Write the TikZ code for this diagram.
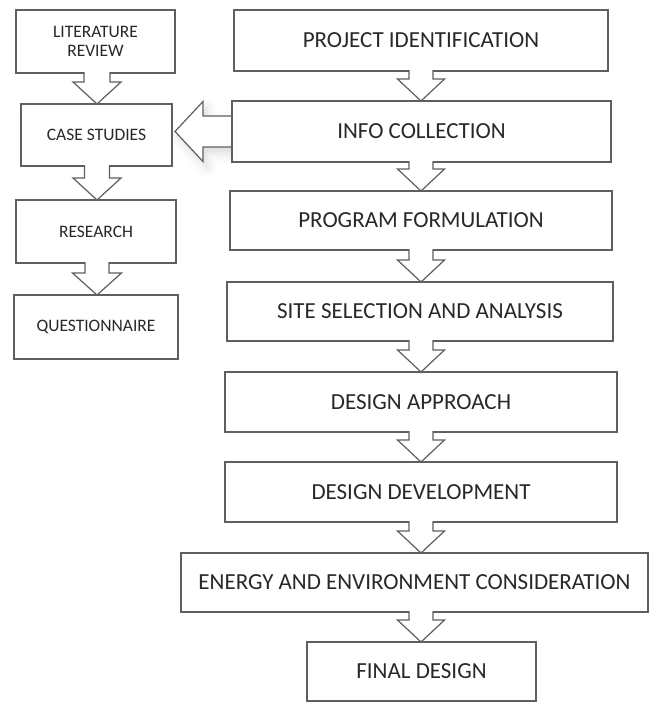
\documentclass[tikz,border=0pt]{standalone}
\usepackage{fontspec}
\setmainfont{Carlito}
\usetikzlibrary{calc,shadows.blur}

\definecolor{linegray}{RGB}{95,95,95}
\definecolor{textgray}{RGB}{40,40,40}

\pgfdeclarelayer{back}
\pgfsetlayers{back,main}

\tikzset{
  box/.style={draw=linegray, line width=1.2pt, fill=white, inner sep=0pt, outer sep=0pt, text=textgray, align=center},
  bigbox/.style={box, font=\fontsize{23}{26}\selectfont},
  smallbox/.style={box, font=\fontsize{17.5}{18.5}\selectfont},
  blockarrow/.style={draw=linegray, fill=white, line width=1.2pt, line join=miter}
}

% hollow arrow pointing down from #1 to #2 on the x of #3 (shaft half #4, head half #5)
\newcommand{\blockdown}[5]{%
  \path[blockarrow] let \p1=(#1.south), \p2=(#2.north), \p3=(#3) in
    (\x3-#4pt,\y1+1pt) -- (\x3-#4pt,\y2+22pt) -- (\x3-#5pt,\y2+22pt) -- (\x3,\y2)
    -- (\x3+#5pt,\y2+22pt) -- (\x3+#4pt,\y2+22pt) -- (\x3+#4pt,\y1+1pt);}

% hollow arrow pointing left from #1 to #2
\newcommand{\blockleft}[2]{%
  \path[blockarrow, blur shadow={shadow xshift=4pt, shadow yshift=-6pt, shadow blur radius=10pt, shadow opacity=15}]
    let \p1=(#1.west), \p2=(#2.east) in
    (\x1,\y1+15.5pt) -- (\x2+31pt,\y1+15.5pt) -- (\x2+31pt,\y1+30pt) -- (\x2+3pt,\y1)
    -- (\x2+31pt,\y1-30pt) -- (\x2+31pt,\y1-15.5pt) -- (\x1,\y1-15.5pt) -- cycle;}

\begin{document}
\begin{tikzpicture}[x=1pt, y=-1pt]
        \useasboundingbox (0,0) rectangle (649,702);
        \coordinate (spine) at (421,0);
        \coordinate (lspine) at (97,0);
        % side column
        \node[smallbox, minimum width=159pt, minimum height=63pt] (Lit) at (95.5,41.5) {LITERATURE\\REVIEW};
        \node[smallbox, minimum width=151pt, minimum height=62pt] (Case) at (96.5,135) {CASE STUDIES};
        \node[smallbox, minimum width=160pt, minimum height=63pt] (Res) at (96,231.5) {RESEARCH};
        \node[smallbox, minimum width=164pt, minimum height=64pt] (Quest) at (96,327) {QUESTIONNAIRE};
        % main column
        \node[bigbox, minimum width=374pt, minimum height=61pt] (Ident) at (421,40.5) {PROJECT IDENTIFICATION};
        \node[bigbox, minimum width=379pt, minimum height=61pt] (Info) at (421.5,131.5) {INFO COLLECTION};
        \node[bigbox, minimum width=382pt, minimum height=59pt] (Prog) at (421,220.5) {PROGRAM FORMULATION};
        \node[bigbox, minimum width=386pt, minimum height=59pt] (Site) at (420,311.5) {SITE SELECTION AND ANALYSIS};
        \node[bigbox, minimum width=392pt, minimum height=60pt] (Appr) at (421,402) {DESIGN APPROACH};
        \node[bigbox, minimum width=392pt, minimum height=60pt] (Devl) at (421,492) {DESIGN DEVELOPMENT};
        \node[bigbox, minimum width=467pt, minimum height=59pt] (Energy) at (414.5,582.5) {ENERGY AND ENVIRONMENT CONSIDERATION};
        \node[bigbox, minimum width=229pt, minimum height=59pt] (Final) at (421.5,671.5) {FINAL DESIGN};
        % arrows
        \blockdown{Ident}{Info}{spine}{12}{23.5}
        \blockdown{Info}{Prog}{spine}{12}{23.5}
        \blockdown{Prog}{Site}{spine}{12}{23.5}
        \blockdown{Site}{Appr}{spine}{12}{23.5}
        \blockdown{Appr}{Devl}{spine}{12}{23.5}
        \blockdown{Devl}{Energy}{spine}{12}{23.5}
        \blockdown{Energy}{Final}{spine}{12}{23.5}
        \blockdown{Lit}{Case}{lspine}{13}{24}
        \blockdown{Case}{Res}{lspine}{12.5}{24}
        \blockdown{Res}{Quest}{lspine}{12}{24.5}
        \begin{pgfonlayer}{back}
          \blockleft{Info}{Case}
        \end{pgfonlayer}
\end{tikzpicture}
\end{document}
